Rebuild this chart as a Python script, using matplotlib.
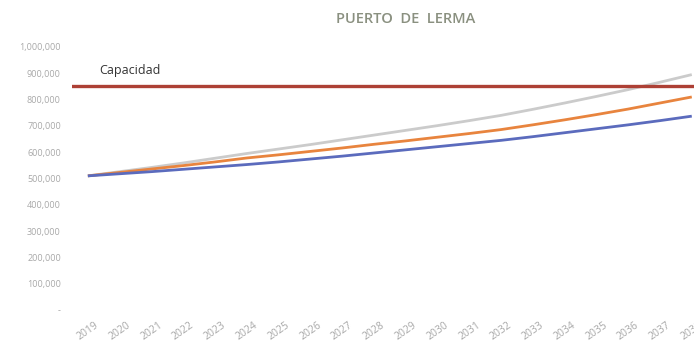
import matplotlib
matplotlib.use("Agg")
import matplotlib.pyplot as plt
from matplotlib.ticker import FuncFormatter

# Proyección de carga anual, Puerto de Lerma
years = [str(y) for y in range(2019, 2039)]
alto = [510000, 526000, 542000, 559000, 577000, 595000, 612000, 629000, 647000, 665000,
        683000, 701000, 720000, 740000, 763000, 787000, 812000, 838000, 866000, 895000]
medio = [510000, 523000, 536000, 549000, 563000, 578000, 590000, 603000, 616000, 630000,
         643000, 657000, 671000, 686000, 704000, 723000, 743000, 764000, 787000, 810000]
bajo = [510000, 518000, 526000, 535000, 544000, 553000, 563000, 574000, 585000, 597000,
        609000, 621000, 633000, 645000, 659000, 674000, 689000, 704000, 720000, 737000]
capacidad = 850000

plt.rcParams['font.family'] = ['Open Sans', 'DejaVu Sans']

fig = plt.figure(figsize=(6.94, 3.47), dpi=100)
ax = fig.add_axes([0.1037, 0.1066, 0.916, 0.758])

x = range(len(years))
ax.plot(x, alto, color='#cbcbcb', lw=2.0, solid_capstyle='butt')
ax.plot(x, medio, color='#e8843e', lw=2.0, solid_capstyle='butt')
ax.plot(x, bajo, color='#5b6bbd', lw=2.0, solid_capstyle='butt')
ax.axhline(capacidad, color='#ad4035', lw=2.4)

ax.text(0.35, capacidad + 60000, 'Capacidad', fontsize=9, color='#333333', va='center')

ax.set_xlim(-0.5, len(years) - 0.5)
ax.set_ylim(0, 1000000)
ax.set_yticks(range(0, 1000001, 100000))
ax.yaxis.set_major_formatter(FuncFormatter(lambda v, p: '-' if v == 0 else f'{int(v):,}'))
ax.set_xticks(list(x))
ax.set_xticklabels(years, rotation=35, ha='center')

ax.tick_params(axis='both', length=0, colors='#a8a8a8')
ax.tick_params(axis='y', pad=8, labelsize=6.5)
ax.tick_params(axis='x', pad=7, labelsize=7.5)
for s in ax.spines.values():
    s.set_visible(False)

fig.text(0.585, 0.945, 'PUERTO  DE  LERMA', ha='center', va='center',
         fontsize=10.5, color='#8a9080', fontweight='semibold')

fig.savefig('out.png', dpi=100)
